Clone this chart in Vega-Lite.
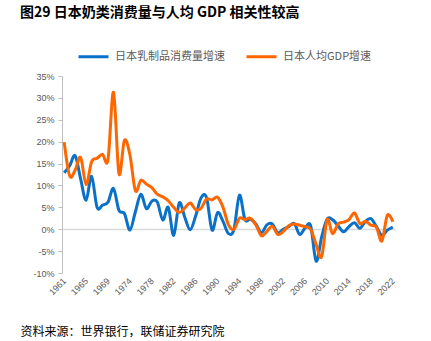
{
  "$schema": "https://vega.github.io/schema/vega-lite/v6.json",
  "width": 333,
  "height": 197,
  "autosize": {"type": "none"},
  "padding": {"left": 62, "top": 76, "right": 36, "bottom": 68},
  "background": "white",
  "config": {"view": {"stroke": null}},
  "title": {
    "text": "图29 日本奶类消费量与人均 GDP 相关性较高",
    "anchor": "start",
    "frame": "group",
    "dx": -42,
    "offset": 20,
    "fontSize": 14,
    "fontWeight": "bold",
    "font": "Noto Sans CJK SC",
    "color": "#000000"
  },
  "data": {
    "values": [
      {"year": "1961", "dairy": 12.9, "gdp": 19.9},
      {"year": "1962", "dairy": 14.5, "gdp": 12.2},
      {"year": "1963", "dairy": 16.8, "gdp": 13.5},
      {"year": "1964", "dairy": 11.5, "gdp": 16.4},
      {"year": "1965", "dairy": 6.6, "gdp": 10.2},
      {"year": "1966", "dairy": 12.1, "gdp": 15.4},
      {"year": "1967", "dairy": 5.0, "gdp": 16.2},
      {"year": "1968", "dairy": 5.5, "gdp": 17.1},
      {"year": "1969", "dairy": 6.2, "gdp": 15.9},
      {"year": "1970", "dairy": 9.3, "gdp": 31.3},
      {"year": "1971", "dairy": 4.3, "gdp": 12.7},
      {"year": "1972", "dairy": 3.6, "gdp": 20.3},
      {"year": "1974", "dairy": -0.2, "gdp": 17.0},
      {"year": "1975", "dairy": 4.0, "gdp": 8.8},
      {"year": "1976", "dairy": 8.0, "gdp": 11.2},
      {"year": "1977", "dairy": 4.7, "gdp": 10.3},
      {"year": "1978", "dairy": 6.4, "gdp": 9.5},
      {"year": "1979", "dairy": 6.2, "gdp": 8.0},
      {"year": "1980", "dairy": 2.1, "gdp": 7.4},
      {"year": "1981", "dairy": 5.0, "gdp": 6.5},
      {"year": "1982", "dairy": -1.4, "gdp": 5.0},
      {"year": "1983", "dairy": 6.0, "gdp": 3.8},
      {"year": "1984", "dairy": 2.8, "gdp": 4.8},
      {"year": "1985", "dairy": -0.1, "gdp": 6.0},
      {"year": "1986", "dairy": 3.0, "gdp": 4.5},
      {"year": "1987", "dairy": 7.2, "gdp": 4.8},
      {"year": "1988", "dairy": 7.2, "gdp": 6.9},
      {"year": "1989", "dairy": -0.2, "gdp": 6.7},
      {"year": "1990", "dairy": 3.8, "gdp": 7.3},
      {"year": "1991", "dairy": 1.8, "gdp": 5.0},
      {"year": "1992", "dairy": -1.0, "gdp": 1.0},
      {"year": "1993", "dairy": 0.0, "gdp": 0.0},
      {"year": "1994", "dairy": 7.8, "gdp": 2.5},
      {"year": "1995", "dairy": 2.2, "gdp": 2.2},
      {"year": "1996", "dairy": 2.3, "gdp": 2.5},
      {"year": "1997", "dairy": 1.2, "gdp": 1.0},
      {"year": "1998", "dairy": -0.8, "gdp": -1.5},
      {"year": "1999", "dairy": 1.0, "gdp": -0.5},
      {"year": "2000", "dairy": 1.2, "gdp": 0.7},
      {"year": "2001", "dairy": -0.8, "gdp": -1.2},
      {"year": "2002", "dairy": 0.0, "gdp": -0.5},
      {"year": "2003", "dairy": 0.6, "gdp": 0.8},
      {"year": "2004", "dairy": 1.3, "gdp": 1.2},
      {"year": "2005", "dairy": -1.2, "gdp": 0.9},
      {"year": "2006", "dairy": 0.3, "gdp": 0.6},
      {"year": "2007", "dairy": 0.8, "gdp": 0.0},
      {"year": "2008", "dairy": -7.3, "gdp": -3.5},
      {"year": "2009", "dairy": -1.8, "gdp": -6.3},
      {"year": "2010", "dairy": 2.3, "gdp": 2.2},
      {"year": "2011", "dairy": 2.2, "gdp": -1.0},
      {"year": "2012", "dairy": 0.8, "gdp": 1.2},
      {"year": "2013", "dairy": -0.6, "gdp": 1.6},
      {"year": "2014", "dairy": 0.6, "gdp": 2.2},
      {"year": "2015", "dairy": 1.5, "gdp": 3.7},
      {"year": "2016", "dairy": 0.2, "gdp": 1.3},
      {"year": "2017", "dairy": 1.8, "gdp": 1.8},
      {"year": "2018", "dairy": 2.4, "gdp": 0.9},
      {"year": "2019", "dairy": 0.6, "gdp": 0.5},
      {"year": "2020", "dairy": -1.4, "gdp": -2.7},
      {"year": "2021", "dairy": -0.2, "gdp": 3.2},
      {"year": "2022", "dairy": 0.5, "gdp": 1.7}
    ]
  },
  "transform": [{"fold": ["dairy", "gdp"], "as": ["series", "value"]}],
  "mark": {"type": "line", "interpolate": "cardinal", "tension": 0, "strokeWidth": 3},
  "encoding": {
    "x": {
      "field": "year",
      "type": "ordinal",
      "scale": {"type": "point", "padding": 0.4},
      "axis": {
        "values": ["1961", "1965", "1969", "1974", "1978", "1982", "1986", "1990", "1994", "1998", "2002", "2006", "2010", "2014", "2018", "2022"],
        "domain": false,
        "ticks": false,
        "labelAngle": -45,
        "labelAlign": "right",
        "labelBaseline": "middle",
        "labelPadding": 6,
        "labelFont": "Liberation Sans",
        "labelFontSize": 9,
        "labelColor": "#595959",
        "title": "资料来源：世界银行，联储证券研究院",
        "titleAnchor": "start",
        "titleAlign": "left",
        "titleBaseline": "middle",
        "titleX": -42,
        "titleY": 58,
        "titleFont": "Noto Sans CJK SC",
        "titleFontSize": 12,
        "titleFontWeight": "normal",
        "titleColor": "#000000"
      }
    },
    "y": {
      "field": "value",
      "type": "quantitative",
      "scale": {"domain": [-10, 35], "nice": false},
      "axis": {
        "values": [-10, -5, 0, 5, 10, 15, 20, 25, 30, 35],
        "labelExpr": "datum.value + '%'",
        "labelOverlap": false,
        "grid": true,
        "gridColor": {"condition": {"test": "datum.value === 0", "value": "#D9D9D9"}, "value": "transparent"},
        "gridWidth": 1.5,
        "domainColor": "#BFBFBF",
        "tickColor": "#BFBFBF",
        "tickSize": 4,
        "labelPadding": 4,
        "labelFont": "Liberation Sans",
        "labelFontSize": 9,
        "labelColor": "#595959",
        "title": null
      }
    },
    "color": {
      "field": "series",
      "type": "nominal",
      "scale": {"domain": ["dairy", "gdp"], "range": ["#0A70C8", "#FF6600"]},
      "legend": {
        "orient": "none",
        "legendX": 15,
        "legendY": -36,
        "direction": "horizontal",
        "title": null,
        "labelExpr": "datum.label === 'dairy' ? '日本乳制品消费量增速' : '日本人均GDP增速'",
        "symbolType": "stroke",
        "symbolStrokeWidth": 3,
        "symbolSize": 900,
        "labelFont": "Noto Sans CJK SC",
        "labelFontSize": 11,
        "labelColor": "#595959",
        "labelOffset": 5,
        "labelLimit": 200,
        "columnPadding": 15
      }
    }
  }
}
